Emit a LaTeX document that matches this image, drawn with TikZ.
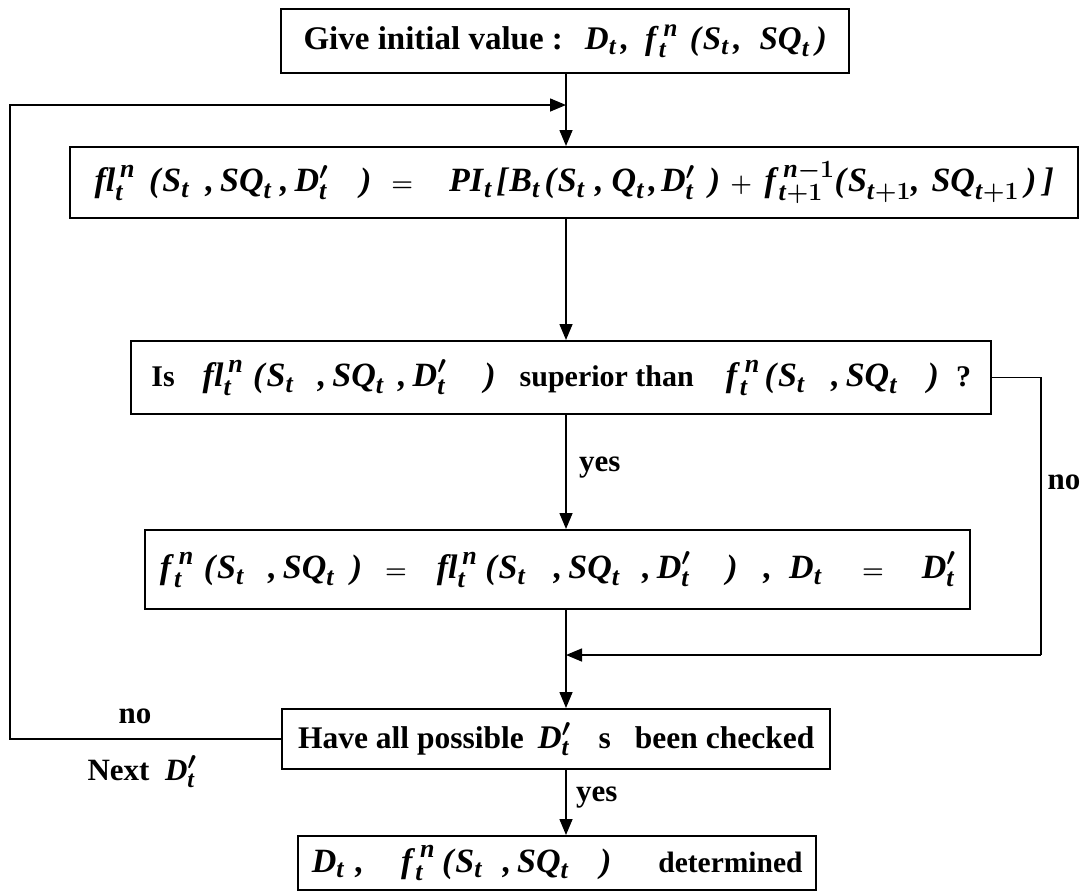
\documentclass[tikz,border=0pt]{standalone}
\usepackage{amsmath}
\usepackage{fontspec}
\setmainfont{Liberation Serif}
\usetikzlibrary{arrows.meta}
\DeclareMathSizes{34}{34}{26}{20}
\DeclareMathSizes{33}{33}{25}{19}
\DeclareMathSizes{31}{31}{24}{18}
\newcommand{\vv}[1]{\textbf{\textit{#1}}}
\newcommand{\lp}{\textbf{\textit{(}}}
\newcommand{\rp}{\textbf{\textit{)}}}
\newcommand{\cm}{\textbf{\textit{,}}}
\newcommand{\St}{\vv{S}_{\vv{t}}}
\newcommand{\SQt}{\vv{SQ}_{\vv{t}}}
\newcommand{\Dt}{\vv{D}_{\vv{t}}}
\newcommand{\Dp}{\vv{D}'_{\vv{t}}}
\newcommand{\fnt}{\vv{f}^{\,\vv{n}}_{\vv{t}}}
\newcommand{\flt}{\vv{fl}^{\,\vv{n}}_{\vv{t}}}
\newcommand{\gap}[1]{\hspace{#1pt}}
\newcommand{\M}[1]{{\fontsize{34}{38}\selectfont$#1$}}
\begin{document}
\begin{tikzpicture}[x=1pt,y=-1pt,
  box/.style={draw, line width=2.4pt, inner sep=0pt, anchor=north west,
    font=\bfseries\boldmath},
  lbl/.style={font=\fontsize{31}{35}\selectfont\bfseries\boldmath, inner sep=0pt},
  conn/.style={line width=1.5pt},
  arr/.style={line width=1.5pt, -{Triangle[length=16pt,width=13pt]}}]
\useasboundingbox (0,0) rectangle (1088,892);
\coordinate (mx) at (566,0);
\coordinate (lx) at (10,0);
\coordinate (rx) at (1041,0);
\coordinate (loopy) at (0,105);
\coordinate (joiny) at (0,655);

\node[box, minimum width=568pt, minimum height=64pt, font=\fontsize{33}{37}\selectfont\bfseries\boldmath] (b1) at (280,8)
  {Give initial value :\gap{22}$\Dt\gap{4}\cm\gap{16}\fnt\gap{12}\lp\St\gap{4}\cm\gap{18}\SQt\gap{6}\rp$};
\node[box, minimum width=1008pt, minimum height=71pt] (b2) at (69,146)
  {\M{\flt\gap{14}\lp\St\gap{16}\cm\gap{6}\SQt\gap{8}\cm\gap{6}\Dp\gap{32}\rp\gap{12}=\gap{28}\vv{PI}_{\vv{t}}\gap{4}\textbf{\textit{[}}\vv{B}_{\vv{t}}\gap{4}\lp\St\gap{10}\cm\gap{8}\vv{Q}_{\vv{t}}\gap{4}\cm\gap{4}\Dp\gap{14}\rp\gap{4} + \gap{6}\vv{f}^{\,\vv{n}-1}_{\vv{t}+1}\lp\vv{S}_{\vv{t}+1}\cm\gap{12}\vv{SQ}_{\vv{t}+1}\gap{6}\rp\gap{6}\textbf{\textit{]}}}};
\node[box, minimum width=860pt, minimum height=73pt, font=\fontsize{30}{34}\selectfont\bfseries\boldmath] (b3) at (130,340)
  {Is\gap{28}\M{\flt\gap{10}\lp\St\gap{24}\cm\gap{6}\SQt\gap{14}\cm\gap{6}\Dp\gap{38}\rp}\gap{24}superior than\gap{32}\M{\fnt\gap{5}\lp\St\gap{26}\cm\gap{6}\SQt\gap{30}\rp}\gap{17}?};
\node[box, minimum width=825pt, minimum height=79pt] (b4) at (144,529)
  {\M{\fnt\gap{10}\lp\St\gap{24}\cm\gap{6}\SQt\gap{16}\rp\gap{15}=\gap{22}\flt\gap{8}\lp\St\gap{28}\cm\gap{6}\SQt\gap{22}\cm\gap{6}\Dp\gap{36}\rp\gap{26}\cm\gap{17}\Dt\gap{32}=\gap{30}\Dp}};
\node[box, minimum width=548pt, minimum height=60pt, font=\fontsize{31.5}{35}\selectfont\bfseries\boldmath] (b5) at (281,708)
  {Have all possible\gap{14}{\fontsize{33}{37}\selectfont$\Dp$}\gap{28}s\gap{24}been checked};
\node[box, minimum width=518pt, minimum height=54pt, font=\fontsize{29.5}{33}\selectfont\bfseries\boldmath] (b6) at (297,835)
  {\M{\Dt\gap{11}\cm\gap{37}\fnt\gap{7}\lp\St\gap{20}\cm\gap{6}\SQt\gap{31}\rp}\gap{47}determined};

\node[lbl, anchor=west] (yes1) at (579,468) {yes};
\node[lbl] (no1) at (1064,482) {no};
\node[lbl] (no2) at (135,716) {no};
\node[lbl] (next) at (142,772) {Next\ \ $\Dp$};
\node[lbl, anchor=west] (yes2) at (576,798) {yes};

\draw[arr] (b1.south -| mx) -- (b2.north -| mx);
\draw[arr] (b5.west) -- (b5.west -| lx) -- (loopy -| lx) -- (loopy -| mx);
\draw[arr] (b2.south -| mx) -- (b3.north -| mx);
\draw[arr] (b3.south -| mx) -- (b4.north -| mx);
\draw[conn] (b3.east) -- (b3.east -| rx) -- (joiny -| rx);
\draw[arr] (joiny -| rx) -- (joiny -| mx);
\draw[arr] (b4.south -| mx) -- (b5.north -| mx);
\draw[arr] (b5.south -| mx) -- (b6.north -| mx);
\end{tikzpicture}
\end{document}
